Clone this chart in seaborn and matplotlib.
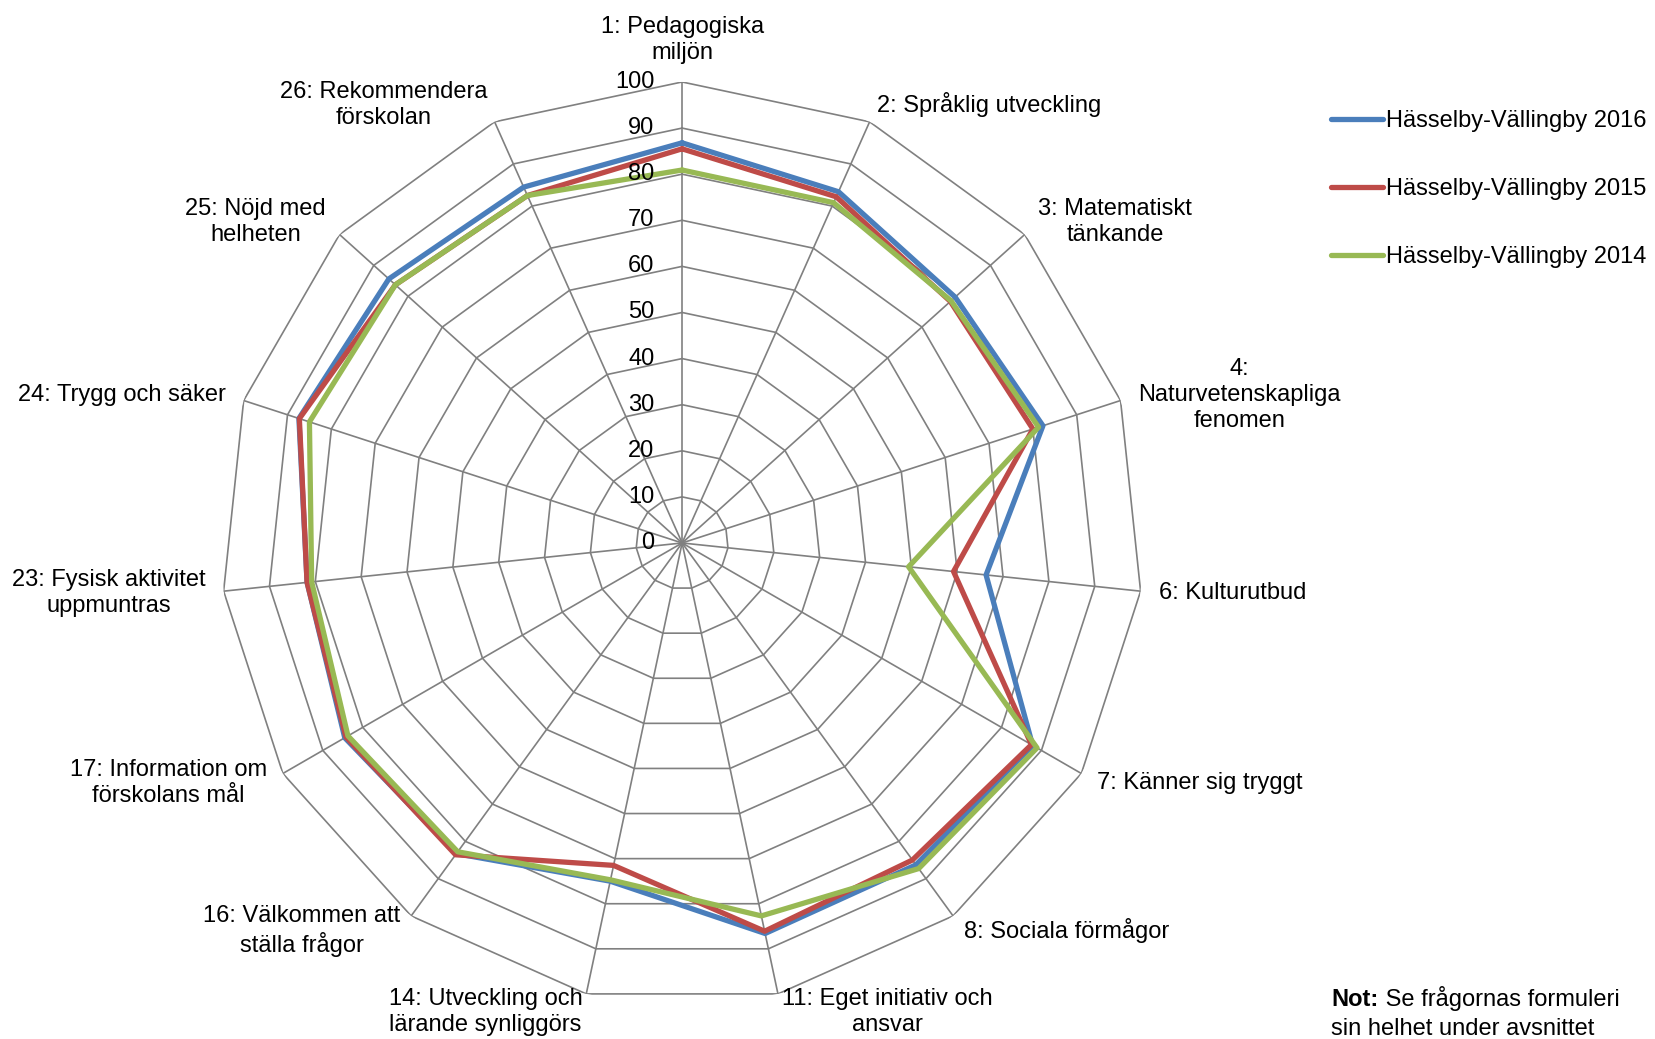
import numpy as np
import pandas as pd
import matplotlib
matplotlib.use("Agg")
import matplotlib.pyplot as plt
import seaborn as sns

sns.set_theme(style="white")
plt.rcParams['font.family'] = ['Liberation Sans', 'DejaVu Sans']
plt.rcParams['text.color'] = 'black'

categories = ["1: Pedagogiska\nmiljön", "2: Språklig utveckling", "3: Matematiskt\ntänkande",
              "4:\nNaturvetenskapliga\nfenomen", "6: Kulturutbud", "7: Känner sig tryggt",
              "8: Sociala förmågor", "11: Eget initiativ och\nansvar",
              "14: Utveckling och\nlärande synliggörs", "16: Välkommen att\nställa frågor",
              "17: Information om\nförskolans mål", "23: Fysisk aktivitet\nuppmuntras",
              "24: Trygg och säker", "25: Nöjd med\nhelheten", "26: Rekommendera\nförskolan"]

v2016 = [86.8, 83.4, 79.7, 82.3, 66.3, 87.8, 86.3, 86.6, 75.0, 83.3, 84.5, 81.8, 87.4, 85.6, 84.5]
v2015 = [85.5, 82.2, 78.3, 80.0, 59.2, 87.5, 85.0, 86.1, 71.5, 83.6, 84.2, 81.8, 87.3, 83.7, 82.5]
v2014 = [80.9, 80.8, 78.5, 81.3, 49.4, 88.9, 87.3, 82.7, 74.7, 82.8, 83.7, 80.8, 85.0, 83.7, 82.5]

series = ["Hässelby-Vällingby 2016", "Hässelby-Vällingby 2015", "Hässelby-Vällingby 2014"]
colors = ["#4A7EBB", "#BE4B48", "#98B954"]
rings = np.arange(0, 101, 10)

n = len(categories)
theta = np.linspace(0, 2 * np.pi, n, endpoint=False)
theta_closed = np.append(theta, 2 * np.pi)

# long table, polygon closed by repeating the first point
rows = []
for name, vals in zip(series, [v2016, v2015, v2014]):
    for t, v in zip(theta_closed, vals + vals[:1]):
        rows.append({'theta': t, 'value': v, 'series': name})
df = pd.DataFrame(rows)

fig = plt.figure(figsize=(16.56, 10.39), dpi=100)
ax = fig.add_axes([0.1335, 0.0337, 0.5568, 0.8874], projection='polar')
ax.set_theta_zero_location('N')
ax.set_theta_direction(-1)

# polygon grid
grid_col = "#808080"
for r in rings[1:]:
    ax.plot(theta_closed, [r] * (n + 1), color=grid_col, lw=1.2, zorder=1)
for t in theta:
    ax.plot([t, t], [0, 100], color=grid_col, lw=1.2, zorder=1)

sns.lineplot(data=df, x='theta', y='value', hue='series', hue_order=series,
             palette=colors, linewidth=3.8, sort=False, estimator=None, ax=ax, zorder=3)

ax.set_ylim(0, 100)
ax.grid(False)
ax.spines['polar'].set_visible(False)
ax.set_xticks([])
ax.set_yticks([])
ax.set_xlabel('')
ax.set_ylabel('')

for r in rings:
    ax.annotate(str(r), xy=(0, r), xytext=(-20, 0), textcoords='offset points',
                ha='right', va='center', fontsize=17, color='black')

for t, lab in zip(theta, categories):
    sx, cy = np.sin(t), np.cos(t)
    ha = 'left' if sx > 0.1 else ('right' if sx < -0.1 else 'center')
    va = 'bottom' if cy > 0.99 else 'center'
    ax.text(t, 104, lab, ha=ha, va=va, multialignment='center', fontsize=17,
            linespacing=1.22, color='black', clip_on=False)

sns.move_legend(ax, loc='upper left', bbox_to_anchor=(0.804, 0.894),
                bbox_transform=fig.transFigure, frameon=False, title=None,
                fontsize=17, handlelength=2.2, handletextpad=0.1,
                labelspacing=1.95, borderpad=0, borderaxespad=0)
for txt in ax.get_legend().get_texts():
    txt.set_color('black')

t_not = fig.text(0.804, 1 - 1006 / 1039, "Not:", fontsize=17, fontweight='bold',
                 ha='left', va='baseline')
fig.text(0.804, 1 - 1035 / 1039, "sin helhet under avsnittet", fontsize=17,
         ha='left', va='baseline')
ax.annotate(" Se frågornas formuleri", xy=(1, 0), xycoords=t_not,
            fontsize=17, ha='left', va='bottom', annotation_clip=False)

fig.savefig("out.png", dpi=100)
